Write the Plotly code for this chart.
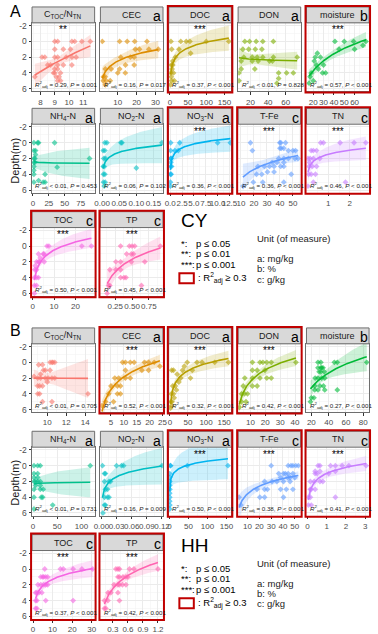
import numpy as np
import plotly.graph_objects as go

W, H = 378, 634

# ---------------- variables ----------------
LABELS = ["C<sub>TOC</sub>/N<sub>TN</sub>", "CEC", "DOC", "DON", "moisture",
          "NH<sub>4</sub>-N", "NO<sub>2</sub>-N", "NO<sub>3</sub>-N", "T-Fe", "TN", "TOC", "TP"]
UNITS = ["", "a", "a", "a", "b", "a", "a", "a", "c", "c", "c", "c"]
COLORS = ["#F8766D", "#DE8C00", "#B79F00", "#7CAE00", "#00BA38", "#00C08B",
          "#00BFC4", "#00B4F0", "#619CFF", "#C77CFF", "#F564E3", "#FF64B0"]

# ---------------- CY data (x = value, y = depth in m) ----------------
CY_CN_x = [9.0, 9.2, 10.2, 10.4, 10.9, 11.5, 9.0, 9.6, 10.1, 8.1, 8.3, 9.0, 9.2, 9.8, 10.2, 10.5, 8.5, 8.7, 9.2, 9.6, 10.2, 9.0, 9.2, 8.9, 9.0, 9.4, 9.1, 9.3, 9.2, 9.4, 7.6]
CY_CN_y = [0, 0, 0, 0, 0, 0, 1, 1, 1, 2, 2, 2, 2, 2, 2, 2, 3, 3, 3, 3, 3, 3.5, 3.5, 4, 4, 4, 4.5, 4.5, 5, 5, 4.5]
CY_CEC_x = [1.8, 11, 15, 19, 25.5, 31.5, 19.3, 21.5, 26.5, 11.6, 16.7, 18.7, 14.1, 18.7, 3.4, 6.5, 11, 10, 14, 2.3, 3.4, 2.3, 3.9, 6, 3.4]
CY_CEC_y = [0, 0, 0, 0, 0, 1, 1, 1, 1, 2, 2, 2, 3, 3, 3.5, 3.5, 3.5, 4, 4, 4.5, 4.5, 5, 5, 5, 5.5]
CY_DOC_x = [3, 30, 45, 55, 100, 162, 5, 25, 57, 15, 8, 4, 6, 3, 10, 4, 12, 5, 2, 8]
CY_DOC_y = [0, 0, 0, 0, 0, 0, 1, 1, 1.5, 2, 2.5, 3, 3.5, 4, 4, 4.5, 5, 5, 5.5, 3]
CY_DON_x = [13.6, 19, 26.5, 34, 46, 11.4, 18, 25.5, 33, 12.5, 22, 27.6, 34, 46, 73, 9.5, 22, 28.7, 41.7, 45, 9.5, 25, 7, 52, 61, 68.6, 52, 7, 50]
CY_DON_y = [0, 0, 0, 0, 0, 1, 1, 1, 1, 2, 2, 2, 2, 2, 2, 2.5, 2.5, 2.5, 2.5, 2.5, 3.5, 3.5, 4, 4, 4, 4, 4.7, 5, 5.3]
CY_MOI_x = [41, 50, 59, 71, 45, 60, 68, 24, 22, 27, 21, 23, 30, 25, 18, 29, 32, 17, 20, 16]
CY_MOI_y = [0, 0, 0, 0, 1, 1, 0.5, 1.5, 2, 2, 2.5, 3, 3, 3.5, 4, 4, 4, 4.5, 5, 5.3]
CY_NH4_x = [1.4, 7.3, 8.8, 34, 1.4, 4, 1.4, 3, 89, 1.4, 3, 1.4, 38, 1.4, 19, 8.8, 1.4, 16, 19, 1.4, 4]
CY_NH4_y = [0, 0, 0, 0, 1, 1, 2, 2, 2, 2.5, 2.5, 3, 3.1, 4, 4, 4.8, 5, 5, 5, 3.5, 1.5]
CY_NO2_x = [0.008, 0.014, 0.055, 0.058, 0.175, 0.003, 0.008, 0.005, 0.010, 0.006, 0.1, 0.004, 0.008, 0.004, 0.009, 0.006, 0.003]
CY_NO2_y = [0, 0, 0, 0, 0, 1, 1, 2, 2, 3, 3.2, 4, 4, 5, 5, 5.5, 3]
CY_NO3_x = [0.1, 1.7, 2.0, 10.0, 12.7, 0.1, 1.0, 0.1, 0.2, 0.1, 0.3, 0.05, 0.2, 0.05, 0.05, 0.15]
CY_NO3_y = [0, 1, 0, 0, 0, 1, 1, 2, 2, 3, 3, 4, 4, 5, 5.5, 2.5]
CY_TFE_x = [17.3, 39.9, 40.7, 44.3, 40, 41, 43, 18.8, 46.5, 50, 52, 39, 43, 46.5, 51.6, 54, 34, 37.7, 43, 23, 28, 32, 35.5, 40.6, 43, 30.4, 35.5, 22, 26, 48.7, 19.5, 26.8, 43, 11.5]
CY_TFE_y = [0, 0, 0, 0, 0.7, 0.7, 0.7, 1, 1, 1, 1, 2, 2, 2, 2, 2, 2.5, 2.5, 2.5, 3, 3, 3, 3, 3, 3, 3.7, 3.7, 4, 4, 4, 5, 5, 5, 5.5]
CY_TN_x = [0.64, 0.77, 1.55, 2.2, 2.75, 0.2, 0.3, 0.45, 0.05, 0.15, 0.3, 0.6, 0.1, 0.25, 0.45, 0.08, 0.2, 0.4, 0.3, 1.8, 0.05, 0.12]
CY_TN_y = [0, 0, 0, 0, 0, 1, 1, 1, 2, 2, 2, 2, 3, 3, 3, 4, 4, 4, 5, 5, 5.5, 2.5]
CY_TOC_x = [6.7, 7.6, 23, 27.5, 2.7, 4.9, 5.3, 1.8, 2.7, 3.2, 5.4, 1.0, 1.8, 0.8, 1.8, 2.7, 0.8, 1.8, 0.8, 1.2, 3.5]
CY_TOC_y = [0, 0, 0, 0, 1, 1, 1, 2, 2, 2, 2, 3, 3, 4, 4, 4, 5, 5, 6, 2.5, 1.5]
CY_TP_x = [0.33, 0.46, 0.5, 0.54, 0.92, 0.42, 0.49, 0.52, 0.26, 0.33, 0.49, 0.69, 0.17, 0.26, 0.33, 0.33, 0.38, 0.41, 0.15, 0.17, 0.64, 0.13]
CY_TP_y = [0, 0, 0, 0, 0, 1, 1, 1, 2, 2, 2, 2, 3, 3, 3, 4, 4, 4, 5, 5, 5, 6]

# ---------------- HH data ----------------
HH_CN_x = [10.3, 10.5, 10.6, 10.8, 9.1, 9.5, 9.6, 9.8, 10.3, 9.0, 9.3, 9.8, 10.1, 10.5, 10.8, 9.0, 9.2, 9.5, 9.0, 9.2, 14.3, 9.5, 10.5, 9.3, 10.0, 8.6]
HH_CN_y = [0, 0, 0, 0, 0.3, 0.3, 1, 1, 1, 2, 2, 2, 2, 2, 2, 3, 3, 3, 4, 4, 4, 5, 5, 1.5, 2.5, 1.8]
HH_CEC_x = [9.5, 10.6, 12.5, 14, 18, 19.6, 21.8, 10.6, 17, 19.6, 6.5, 8, 10.6, 12.5, 5, 7.5, 8.7, 4.1, 7.5, 8.7, 2.9, 6, 1.5, 24]
HH_CEC_y = [0, 0, 0, 0, 0, 0, 0, 1, 1, 1, 2, 2, 2, 2, 3, 3, 3, 4, 4, 4, 5, 5, 5.5, 0.5]
HH_DOC_x = [48, 75, 89, 124, 162, 62, 57, 5, 10, 20, 30, 8, 15, 25, 4, 10, 18, 3, 6, 12, 2, 5, 35, 40]
HH_DOC_y = [0, 0, 0, 0, 0, 1, 2, 1, 1, 1.5, 2, 3, 3, 2.5, 4, 4, 3.5, 5, 5, 4.5, 5.8, 5.5, 1, 0.5]
HH_DON_x = [11.3, 16.4, 18.4, 21, 24, 40.6, 11.3, 14.5, 19.7, 6.2, 11.3, 16.4, 21, 24, 5.1, 11.3, 14.5, 4, 6, 8, 4, 7, 2.5]
HH_DON_y = [0, 0, 0, 0, 0, 0, 1, 1, 1, 2, 2, 2, 2, 2, 3, 3, 3, 4, 4, 4, 5, 5, 5.7]
HH_MOI_x = [27.7, 31, 46.6, 50, 27.7, 31, 32, 33.5, 29, 31, 35, 24.4, 27.7, 32, 35.5, 24, 30, 34, 24, 27.7, 35.5, 50, 20, 23, 19, 84]
HH_MOI_y = [0, 0, 0, 0, 0.7, 0.7, 0.7, 0.7, 1.2, 1.2, 1.2, 2, 2, 2, 2, 3, 3, 3, 3.5, 3.5, 3.5, 3.5, 4.5, 4.5, 5, 0]
HH_NH4_x = [2, 9.6, 15, 118, 2, 9.6, 2, 9.6, 2, 5, 9.6, 15, 5, 15, 2, 15, 21, 2, 17, 20, 40.6, 2]
HH_NH4_y = [0, 0, 0, 0, 1, 1, 1.5, 1.5, 2, 2, 2, 2, 2.5, 2.5, 3, 3, 3, 4, 4, 4, 5, 5.5]
HH_NO2_x = [0.002, 0.03, 0.04, 0.044, 0.12, 0.006, 0.008, 0.006, 0.015, 0.018, 0.008, 0.012, 0.006, 0.012, 0.015, 0.006, 0.008, 0.003]
HH_NO2_y = [0, 0, 0, 0, 0, 1, 1, 2, 2, 2, 3, 3, 4, 4, 4, 5, 5, 6]
HH_NO3_x = [47, 154, 0.5, 0.8, 1.0, 0.5, 0.8, 0.5, 0.6, 0.5, 0.4, 0.5, 2, 3]
HH_NO3_y = [0, 0, 1, 2, 3, 4, 5, 5.5, 2.5, 1.5, 3.5, 4.5, 0, 0]
HH_TFE_x = [30, 44.4, 46.8, 48.4, 50.8, 53, 36.4, 40.4, 42, 44.4, 48.4, 38, 44, 46, 50, 24.4, 30.8, 34.8, 40.4, 46, 18, 24.4, 26.8, 38, 42.8, 48.4, 2.8, 20.4, 24.4, 40.4, 4.4]
HH_TFE_y = [0, 0, 0, 0, 0, 0, 1, 1, 1, 1, 1, 1.5, 1.5, 1.5, 1.5, 2, 2, 2, 2, 2, 3, 3, 3, 3, 3, 3, 4, 4, 4, 4, 5]
HH_TN_x = [0.55, 0.65, 1.2, 1.45, 1.8, 2.15, 3.05, 0.4, 0.65, 1.45, 0.4, 0.5, 1.1, 0.15, 0.35, 0.65, 0.8, 0.15, 0.2, 0.4, 0.05, 0.15, 1.45, 0.05, 0.2]
HH_TN_y = [0, 0, 0, 0, 0, 0, 0, 0.7, 0.7, 0.7, 1, 1, 1, 2, 2, 2, 2, 3, 3, 3, 4, 4, 4, 5, 5]
HH_TOC_x = [6, 14, 15.5, 20.5, 25, 30.5, 4, 5, 5.5, 6.5, 7.5, 2.5, 4, 5.5, 6.5, 7.5, 1.3, 2, 3, 4.5, 1.3, 2, 6.5, 20.5, 1.3, 2]
HH_TOC_y = [0, 0, 0, 0, 0, 0, 1, 1, 1, 1, 1, 2, 2, 2, 2, 2, 3, 3, 3, 3, 4, 4, 4, 4, 5, 5]
HH_TP_x = [0.36, 0.4, 0.43, 0.63, 0.72, 1.2, 0.4, 0.43, 0.5, 0.56, 0.6, 0.32, 0.4, 0.43, 0.49, 0.56, 0.2, 0.26, 0.4, 0.13, 0.2, 0.43, 0.13, 0.16]
HH_TP_y = [0, 0, 0, 0, 0, 0, 1, 1, 1, 1, 1, 2, 2, 2, 2, 2, 3, 3, 3, 4, 4, 4, 5, 5]

# ---------------- statistics text ----------------
CY_R2 = ["= 0.29", "= 0.16", "= 0.37", "< 0.01", "= 0.57", "< 0.01", "= 0.06", "= 0.36", "= 0.36", "= 0.46", "= 0.50", "= 0.45"]
CY_P = ["= 0.001", "= 0.017", "< 0.001", "= 0.828", "< 0.001", "= 0.453", "= 0.102", "< 0.001", "< 0.001", "< 0.001", "< 0.001", "< 0.001"]
CY_STARS = ["**", "", "***", "", "***", "", "", "***", "***", "***", "***", "***"]
HH_R2 = ["< 0.01", "= 0.52", "= 0.32", "= 0.42", "= 0.27", "< 0.01", "= 0.16", "= 0.50", "= 0.38", "= 0.41", "= 0.37", "= 0.42"]
HH_P = ["= 0.705", "< 0.001", "< 0.001", "< 0.001", "< 0.001", "= 0.731", "= 0.009", "< 0.001", "< 0.001", "< 0.001", "< 0.001", "< 0.001"]
HH_STARS = ["", "***", "***", "***", "", "", "", "***", "***", "***", "***", "***"]

# ---------------- x tick labels ----------------
CY_TICKLABELS = [["8", "9", "10", "11"], ["10", "20", "30"], ["0", "50", "100", "150"], ["20", "40", "60"],
                 ["20", "30", "40", "50", "60"], ["0", "25", "50", "75"], ["0.00", "0.05", "0.10", "0.15"],
                 ["0.0", "2.5", "5.0", "7.5", "10.0", "12.5"], ["10", "20", "30", "40", "50"], ["1", "2"],
                 ["0", "10", "20"], ["0.25", "0.50", "0.75"]]
HH_TICKLABELS = [["10", "12", "14"], ["5", "10", "15", "20", "25"], ["0", "50", "100", "150"], ["10", "20", "30", "40"],
                 ["20", "40", "60", "80"], ["0", "50", "100"], ["0.00", "0.03", "0.06", "0.09", "0.12"],
                 ["0", "50", "100", "150"], ["10", "20", "30", "40", "50"], ["0", "1", "2", "3"],
                 ["0", "10", "20", "30"], ["0.3", "0.6", "0.9", "1.2"]]
Y_TICKLABELS = ["-2", "0", "2", "4", "6"]

# ---------------- axis ranges (layout) ----------------
CY_XRANGE = [[7.4, 11.8], [0.8, 34], [-3, 169], [6, 77], [13.5, 74], [-1.5, 97], [-0.005, 0.178],
             [-0.3, 12.9], [7.8, 56], [-0.02, 2.9], [-0.3, 29], [0.03, 0.96]]
HH_XRANGE = [[8.4, 15], [0.9, 25.2], [-3, 170], [1.7, 43.8], [14.4, 86.7], [-2, 127], [-0.002, 0.122],
             [-2, 163], [2, 55], [-0.05, 3.2], [-0.5, 31.5], [0.05, 1.3]]
YRANGE = [6.35, -2.35]

CY_X = [CY_CN_x, CY_CEC_x, CY_DOC_x, CY_DON_x, CY_MOI_x, CY_NH4_x, CY_NO2_x, CY_NO3_x, CY_TFE_x, CY_TN_x, CY_TOC_x, CY_TP_x]
CY_Y = [CY_CN_y, CY_CEC_y, CY_DOC_y, CY_DON_y, CY_MOI_y, CY_NH4_y, CY_NO2_y, CY_NO3_y, CY_TFE_y, CY_TN_y, CY_TOC_y, CY_TP_y]
HH_X = [HH_CN_x, HH_CEC_x, HH_DOC_x, HH_DON_x, HH_MOI_x, HH_NH4_x, HH_NO2_x, HH_NO3_x, HH_TFE_x, HH_TN_x, HH_TOC_x, HH_TP_x]
HH_Y = [HH_CN_y, HH_CEC_y, HH_DOC_y, HH_DON_y, HH_MOI_y, HH_NH4_y, HH_NO2_y, HH_NO3_y, HH_TFE_y, HH_TN_y, HH_TOC_y, HH_TP_y]


def tq(df):
    z = 1.959964
    return z + (z ** 3 + z) / (4 * df) + (5 * z ** 5 + 16 * z ** 3 + 3 * z) / (96 * df ** 2)


def logfit(x, y):
    x = np.asarray(x, float)
    y = np.asarray(y, float)
    lx = np.log(x)
    n = len(x)
    m = lx.mean()
    sxx = ((lx - m) ** 2).sum()
    b = ((lx - m) * (y - y.mean())).sum() / sxx
    a = y.mean() - b * m
    s = np.sqrt(((y - a - b * lx) ** 2).sum() / (n - 2))
    xs = np.linspace(x.min(), x.max(), 150)
    lxs = np.log(xs)
    yh = a + b * lxs
    se = s * np.sqrt(1 / n + (lxs - m) ** 2 / sxx)
    t = tq(n - 2)
    return xs, yh, yh - t * se, yh + t * se


def rgba(hexc, a):
    h = hexc.lstrip("#")
    return "rgba(%d,%d,%d,%.2f)" % (int(h[0:2], 16), int(h[2:4], 16), int(h[4:6], 16), a)


def fx(px):
    return px / W


def fy(py):
    return 1 - py / H


FONT = "Liberation Sans, Arial, sans-serif"
COL_LEFT = [26, 97, 168, 240, 311]
PW = 65
PH = 69
SH = 16
ROW_TOP = {0: [21, 123, 227], 1: [344, 448, 552]}
RED = "#C00000"
BORDER = "#6E6E6E"

fig = go.Figure()
layout = {}
shapes = []
annotations = []

datasets = [
    (CY_X, CY_Y, CY_R2, CY_P, CY_STARS, CY_TICKLABELS, CY_XRANGE),
    (HH_X, HH_Y, HH_R2, HH_P, HH_STARS, HH_TICKLABELS, HH_XRANGE),
]

ax = 0
for d, (XS, YS, R2, PV, STARS, TL, XR) in enumerate(datasets):
    for i in range(12):
        ax += 1
        row, col = i // 5, i % 5
        left = COL_LEFT[col]
        top = ROW_TOP[d][row]
        bottom = top + PH
        xn = "x" if ax == 1 else "x%d" % ax
        yn = "y" if ax == 1 else "y%d" % ax
        xk = "xaxis" if ax == 1 else "xaxis%d" % ax
        yk = "yaxis" if ax == 1 else "yaxis%d" % ax

        tv = [float(s) for s in TL[i]]
        step = tv[1] - tv[0]
        lo, hi = XR[i]
        minor = []
        v = tv[0] - step / 2
        while v > lo:
            v -= step
        while v < hi:
            if v > lo:
                minor.append(v)
            v += step

        layout[xk] = dict(
            domain=[fx(left), fx(left + PW)], anchor=yn, range=XR[i],
            tickmode="array", tickvals=tv, ticktext=TL[i], tickangle=0,
            ticks="outside", ticklen=2.5, tickwidth=1, tickcolor="#333333",
            tickfont=dict(size=8, color="#4D4D4D", family=FONT),
            showgrid=True, gridcolor="#EBEBEB", gridwidth=1,
            minor=dict(tickvals=minor, showgrid=True, gridcolor="#F3F3F3", gridwidth=0.6, ticklen=0),
            showline=True, linecolor=BORDER, linewidth=1, mirror=True, zeroline=False,
        )
        layout[yk] = dict(
            domain=[fy(bottom), fy(top)], anchor=xn, range=YRANGE,
            tickmode="array", tickvals=[float(s) for s in Y_TICKLABELS], ticktext=Y_TICKLABELS,
            ticks="outside" if col == 0 else "", ticklen=2.5, tickcolor="#333333",
            showticklabels=(col == 0),
            tickfont=dict(size=8.5, color="#4D4D4D", family=FONT),
            showgrid=True, gridcolor="#EBEBEB", gridwidth=1,
            minor=dict(tickvals=[-3, -1, 1, 3, 5], showgrid=True, gridcolor="#F3F3F3", gridwidth=0.6, ticklen=0),
            showline=True, linecolor=BORDER, linewidth=1, mirror=True, zeroline=False,
        )

        c = COLORS[i]
        x = XS[i]
        y = YS[i]
        fig.add_trace(go.Scatter(x=x, y=y, mode="markers", xaxis=xn, yaxis=yn,
                                 marker=dict(symbol="diamond", size=4.5, color=c, opacity=0.6, line=dict(width=0)),
                                 hoverinfo="skip", showlegend=False))
        xs, yh, ylo, yhi = logfit(x, y)
        fig.add_trace(go.Scatter(x=np.concatenate([xs, xs[::-1]]), y=np.concatenate([yhi, ylo[::-1]]),
                                 fill="toself", fillcolor=rgba(c, 0.2), line=dict(width=0),
                                 mode="lines", xaxis=xn, yaxis=yn, hoverinfo="skip", showlegend=False))
        fig.add_trace(go.Scatter(x=xs, y=yh, mode="lines", line=dict(color=c, width=1.6),
                                 xaxis=xn, yaxis=yn, hoverinfo="skip", showlegend=False))

        # strip
        shapes.append(dict(type="rect", xref="paper", yref="paper",
                           x0=fx(left), x1=fx(left + PW), y0=fy(top), y1=fy(top - SH),
                           fillcolor="#D9D9D9", line=dict(color=BORDER, width=1), layer="above"))
        annotations.append(dict(x=fx(left + PW / 2), y=fy(top - SH / 2), xref="paper", yref="paper",
                                text=LABELS[i], showarrow=False, xanchor="center", yanchor="middle",
                                font=dict(size=9, color="#1A1A1A", family=FONT)))
        if UNITS[i]:
            annotations.append(dict(x=fx(left + PW + 0.5), y=fy(top - SH / 2 + 1.5), xref="paper", yref="paper",
                                    text=UNITS[i], showarrow=False, xanchor="right", yanchor="middle",
                                    font=dict(size=14, color="#000000", family=FONT)))
        if STARS[i]:
            annotations.append(dict(x=fx(left + PW / 2), y=fy(top + 7), xref="paper", yref="paper",
                                    text=STARS[i], showarrow=False, xanchor="center", yanchor="middle",
                                    font=dict(size=10, color="#000000", family=FONT)))
        annotations.append(dict(x=fx(left + 1.5), y=fy(bottom - 0.5), xref="paper", yref="paper",
                                text="<i>R</i><sup>2</sup><sub>adj</sub> %s, <i>P</i> %s" % (R2[i], PV[i]),
                                showarrow=False, xanchor="left", yanchor="bottom",
                                font=dict(size=6.2, color="#1A1A1A", family=FONT)))
        # red box for R2adj >= 0.3
        if R2[i].startswith("=") and float(R2[i][1:]) >= 0.3:
            shapes.append(dict(type="rect", xref="paper", yref="paper",
                               x0=fx(left - 1), x1=fx(left + PW + 1), y0=fy(bottom + 1), y1=fy(top - SH - 1),
                               line=dict(color=RED, width=2), fillcolor="rgba(0,0,0,0)", layer="above"))

# panel letters and axis titles
for txt, yy in [("A", 10), ("B", 331)]:
    annotations.append(dict(x=fx(1), y=fy(yy), xref="paper", yref="paper", text=txt, showarrow=False,
                            xanchor="left", yanchor="middle", font=dict(size=16, color="#000000", family=FONT)))
for yy in [160, 484]:
    annotations.append(dict(x=fx(8), y=fy(yy), xref="paper", yref="paper", text="Depth(m)", showarrow=False,
                            textangle=-90, xanchor="center", yanchor="middle",
                            font=dict(size=11, color="#1A1A1A", family=FONT)))

# legend blocks
SIG_SYM = ["*:", "**:", "***:"]
SIG_TXT = ["p ≤ 0.05", "p ≤ 0.01", "p ≤ 0.001"]
UNIT_TXT = ["Unit (of measure)", "", "a: mg/kg", "b: %", "c: g/kg"]
for name, y0 in [("CY", 220), ("HH", 547)]:
    annotations.append(dict(x=fx(179), y=fy(y0), xref="paper", yref="paper", text=name, showarrow=False,
                            xanchor="left", yanchor="middle", font=dict(size=19, color="#000000", family=FONT)))
    for k in range(3):
        yy = y0 + 23 + 10.5 * k
        annotations.append(dict(x=fx(179), y=fy(yy), xref="paper", yref="paper", text=SIG_SYM[k],
                                showarrow=False, xanchor="left", yanchor="middle",
                                font=dict(size=9.5, color="#000000", family=FONT)))
        annotations.append(dict(x=fx(194), y=fy(yy), xref="paper", yref="paper", text=SIG_TXT[k],
                                showarrow=False, xanchor="left", yanchor="middle",
                                font=dict(size=9.5, color="#000000", family=FONT)))
    shapes.append(dict(type="rect", xref="paper", yref="paper", x0=fx(179), x1=fx(194),
                       y0=fy(y0 + 63), y1=fy(y0 + 53), line=dict(color=RED, width=2),
                       fillcolor="rgba(0,0,0,0)"))
    annotations.append(dict(x=fx(196), y=fy(y0 + 58), xref="paper", yref="paper",
                            text=": R<sup>2</sup><sub>adj</sub> ≥ 0.3", showarrow=False,
                            xanchor="left", yanchor="middle", font=dict(size=9.5, color="#000000", family=FONT)))
    for k, t in enumerate(UNIT_TXT):
        if t:
            annotations.append(dict(x=fx(258), y=fy(y0 + 18 + 10.2 * k), xref="paper", yref="paper", text=t,
                                    showarrow=False, xanchor="left", yanchor="middle",
                                    font=dict(size=9.5, color="#1A1A1A", family=FONT)))

fig.update_layout(
    width=W, height=H, margin=dict(l=0, r=0, t=0, b=0),
    paper_bgcolor="white", plot_bgcolor="white",
    showlegend=False, shapes=shapes, annotations=annotations,
    font=dict(family=FONT), hovermode=False,
    **layout,
)
fig.write_html("out.html", config={"displayModeBar": False, "staticPlot": True},
               post_script="document.body.style.margin='0';document.body.style.padding='0';"
                           "document.body.style.overflow='hidden';")
